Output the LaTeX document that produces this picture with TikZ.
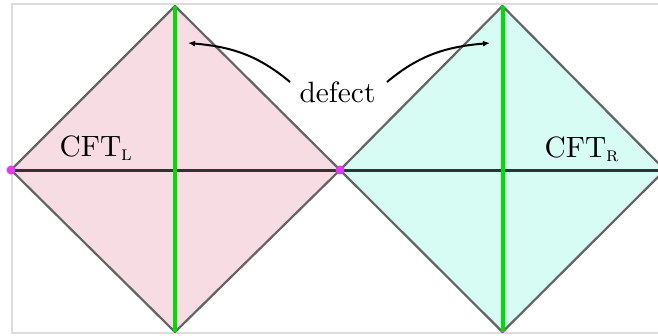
\documentclass[tikz,border=0pt]{standalone}
\usepackage{amsmath}
\usetikzlibrary{arrows.meta}
\definecolor{pinkfill}{RGB}{248,220,228}
\definecolor{cyanfill}{RGB}{214,252,244}
\definecolor{edgegray}{RGB}{100,100,100}
\definecolor{axisgray}{RGB}{50,50,50}
\definecolor{defgreen}{RGB}{0,221,0}
\definecolor{dotmag}{RGB}{228,58,240}
\definecolor{framegray}{RGB}{220,220,220}
\begin{document}
\begin{tikzpicture}[x=1bp,y=1bp,
  edge/.style={draw=edgegray,line width=2.2bp,line join=round},
  axis/.style={draw=axisgray,line width=3bp},
  defectline/.style={draw=defgreen,line width=4bp},
  dot/.style={circle,fill=dotmag,inner sep=0pt,minimum size=9bp},
  lbl/.style={inner sep=0pt,font=\normalsize,scale=2.95},
  arr/.style={line width=2bp,-{Latex[length=7bp,width=6bp]}}]
\useasboundingbox (0,0) rectangle (658,335);
\clip (0,0) rectangle (658,335);
% frame
\draw[framegray,line width=2bp] (12,2) rectangle (700,330.5);
% diamonds
\coordinate (Lw) at (11,165);
\coordinate (Ln) at (175,329);
\coordinate (M) at (340,165);
\coordinate (Ls) at (175,3);
\coordinate (Rn) at (502.5,329);
\coordinate (Re) at (665,165);
\coordinate (Rs) at (502.5,3);
\fill[pinkfill] (Lw) -- (Ln) -- (M) -- (Ls) -- cycle;
\fill[cyanfill] (M) -- (Rn) -- (Re) -- (Rs) -- cycle;
\draw[edge] (Lw) -- (Ln) -- (M) -- (Ls) -- cycle;
\draw[edge] (M) -- (Rn) -- (Re) -- (Rs) -- cycle;
% horizontal axis
\draw[axis] (Lw) -- (Re);
% defect lines
\draw[defectline] (Ln) -- (Ls);
\draw[defectline] (Rn) -- (Rs);
% dots
\node[dot] (d1) at (Lw) {};
\node[dot] (d2) at (M) {};
% labels
\node[lbl,anchor=base west] (cftl) at (59,179) {CFT$_{\textsc{l}}$};
\node[lbl,anchor=base west] (cftr) at (544,178) {CFT$_{\textsc{r}}$};
\node[lbl,anchor=base] (def) at (337.5,233) {defect};
% arrows
\coordinate (s1) at (290,253);
\coordinate (s2) at (387,253);
\coordinate (a1) at (188,292);
\coordinate (a2) at (490,292);
\draw[arr] (s1) to[out=140,in=-5] (a1);
\draw[arr] (s2) to[out=40,in=185] (a2);
\end{tikzpicture}
\end{document}
